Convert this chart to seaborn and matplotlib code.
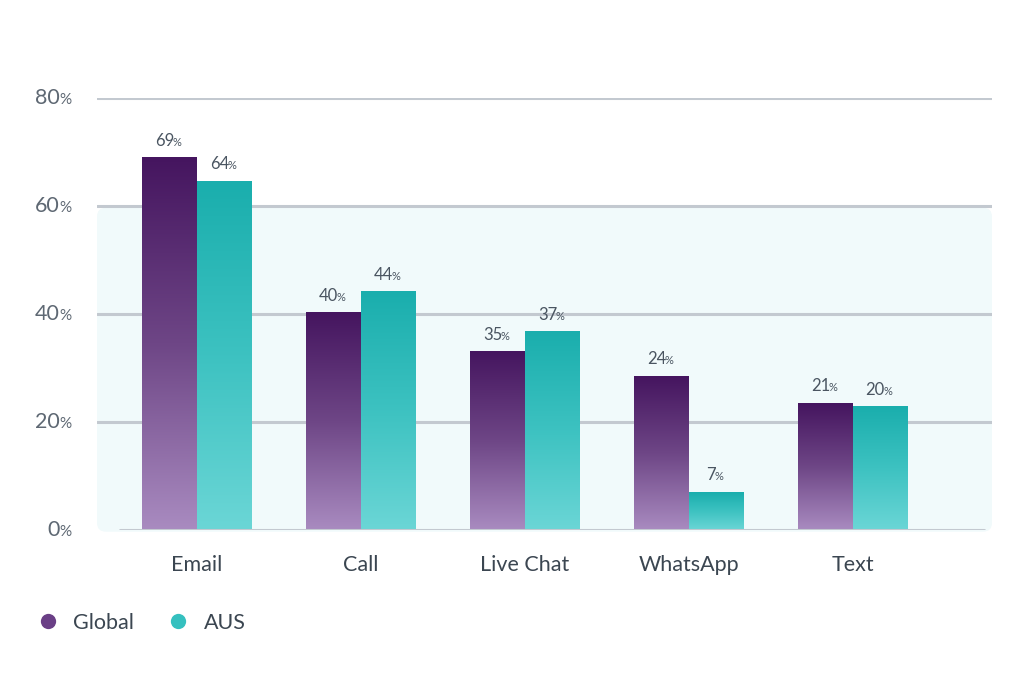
import numpy as np
import pandas as pd
import matplotlib
matplotlib.use("Agg")
import matplotlib.pyplot as plt
import matplotlib.transforms as mtransforms
from matplotlib.colors import LinearSegmentedColormap
from matplotlib.patches import FancyBboxPatch
from matplotlib.lines import Line2D
import seaborn as sns

# data
categories = ["Email", "Call", "Live Chat", "WhatsApp", "Text"]
global_vals = [68.9, 40.2, 33.0, 28.5, 23.5]
aus_vals = [64.6, 44.1, 36.7, 7.0, 22.8]
global_labels = ["69", "40", "35", "24", "21"]
aus_labels = ["64", "44", "37", "7", "20"]
series = ["Global", "AUS"]
yticks = [0, 20, 40, 60, 80]

df = pd.DataFrame({
    "channel": categories * 2,
    "value": global_vals + aus_vals,
    "series": ["Global"] * len(categories) + ["AUS"] * len(categories),
})

sns.set_style("white")
plt.rcParams["font.family"] = ["Lato", "DejaVu Sans"]

grad = {
    "Global": ["#A98BC0", "#6E4686", "#45155F"],
    "AUS": ["#6BD6D6", "#3DC2C1", "#1AAEAD"],
}
solid = {"Global": "#6A3F86", "AUS": "#35C0BF"}
grid_c = "#C3C9D0"
tick_c = "#5E6873"
text_c = "#3B4651"

fig = plt.figure(figsize=(10.24, 6.8), dpi=100)
ax = fig.add_axes([97 / 1024, 1 - 530 / 680, 895 / 1024, 432 / 680])

sns.barplot(data=df, x="channel", y="value", hue="series", hue_order=series,
            palette=solid, width=0.67, gap=0, legend=False, ax=ax,
            saturation=1, zorder=3)

xlim = (-0.61, 4.85)
ylim = (0, 80)

# gradient fill for every bar
g = np.linspace(0, 1, 256).reshape(-1, 1)
for cont, name, labels in zip(ax.containers, series, [global_labels, aus_labels]):
    cmap = LinearSegmentedColormap.from_list(name, grad[name])
    for bar, lab in zip(cont, labels):
        x, w, h = bar.get_x(), bar.get_width(), bar.get_height()
        bar.set_facecolor("none")
        bar.set_edgecolor("none")
        ax.imshow(g, extent=[x, x + w, 0, h], origin="lower", aspect="auto",
                  cmap=cmap, zorder=3, interpolation="bicubic")
        t = ax.annotate(lab, xy=(x + w / 2, h), xytext=(-3.5, 6.5),
                        textcoords="offset points", ha="center", va="bottom",
                        fontsize=12, color="#4A5561", zorder=5)
        ax.annotate("%", xy=(1, 0.06), xycoords=t, xytext=(-1, 0),
                    textcoords="offset points", ha="left", va="bottom",
                    fontsize=8, color="#4A5561", zorder=5)

ax.set_xlim(*xlim)
ax.set_ylim(*ylim)

# light panel behind the lower part of the chart
panel = FancyBboxPatch((0, -0.004), 1, 0.75, transform=ax.transAxes,
                       boxstyle="round,pad=0,rounding_size=0.01",
                       mutation_aspect=895 / 432, facecolor="#F1FAFB",
                       edgecolor="none", zorder=0, clip_on=False)
ax.add_patch(panel)

for t in yticks[1:]:
    ax.axhline(t, color=grid_c, lw=2.2, zorder=1)
ax.axhline(0, xmin=0.026, xmax=0.991, color=grid_c, lw=2.2, zorder=4)

# y tick labels with a smaller percent sign
trans = mtransforms.blended_transform_factory(ax.transAxes, ax.transData)
ax.set_yticks([])
for t in yticks:
    num = ax.text(-0.0413, t, str(t), transform=trans, ha="right", va="center",
                  fontsize=15.5, color=tick_c)
    ax.annotate("%", xy=(1, 0.07), xycoords=num, xytext=(-0.5, 0),
                textcoords="offset points", ha="left", va="bottom",
                fontsize=11, color=tick_c)

ax.set_xlabel("")
ax.set_ylabel("")
ax.tick_params(axis="x", length=0, pad=18, labelsize=15.5, labelcolor=text_c)
sns.despine(ax=ax, left=True, bottom=True)

handles = [Line2D([], [], marker="o", ls="", markersize=11,
                  markerfacecolor=solid[s], markeredgecolor="none") for s in series]
fig.legend(handles, series, loc="center left", bbox_to_anchor=(0.038, 1 - 623 / 680),
           ncol=2, frameon=False, fontsize=15.5, handlelength=0.8,
           handletextpad=0.8, columnspacing=1.65, labelcolor=text_c,
           borderaxespad=0, borderpad=0)

fig.savefig("out.png", dpi=100, facecolor="white")
